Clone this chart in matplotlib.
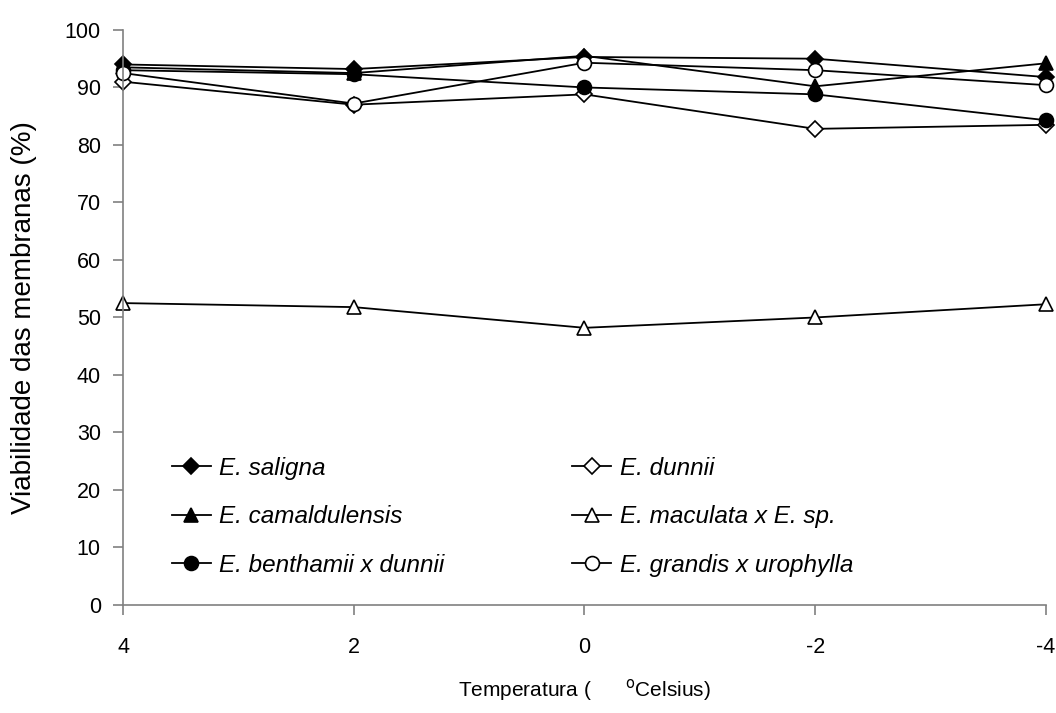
import matplotlib.pyplot as plt

plt.rcParams['font.family'] = ['Liberation Sans', 'DejaVu Sans']
plt.rcParams['axes.unicode_minus'] = False

# temperatures (degrees Celsius)
temps = [4, 2, 0, -2, -4]

saligna = [94.0, 93.2, 95.3, 95.0, 91.8]
dunnii = [91.0, 87.0, 88.8, 82.8, 83.5]
camaldulensis = [93.5, 92.5, 95.5, 90.2, 94.2]
maculata = [52.5, 51.8, 48.2, 50.0, 52.3]
benthamii = [93.0, 92.3, 90.0, 88.8, 84.3]
grandis = [92.5, 87.2, 94.3, 93.0, 90.4]

labels = ['E. saligna', 'E. dunnii', 'E. camaldulensis',
          'E. maculata x E. sp.', 'E. benthamii x dunnii',
          'E. grandis x urophylla']

fig = plt.figure(figsize=(10.56, 7.13), dpi=100)
ax = fig.add_axes([0.1165, 0.1515, 0.874, 0.8065])

# (values, marker, face, size)
series = [
    (saligna, 'D', 'black', 8),
    (dunnii, 'D', 'white', 8),
    (camaldulensis, '^', 'black', 10),
    (maculata, '^', 'white', 10),
    (benthamii, 'o', 'black', 10),
    (grandis, 'o', 'white', 10),
]

lines = []
for (vals, mk, fc, ms), lab in zip(series, labels):
    ln, = ax.plot(temps, vals, color='black', lw=1.3, marker=mk, markersize=ms,
                  markerfacecolor=fc, markeredgecolor='black',
                  markeredgewidth=1.2, label=lab, clip_on=False)
    lines.append(ln)

ax.set_xlim(4, -4)
ax.set_ylim(0, 100)
ax.set_xticks(temps)
ax.set_yticks(range(0, 101, 10))

for s in ['top', 'right']:
    ax.spines[s].set_visible(False)
for s in ['left', 'bottom']:
    ax.spines[s].set_color('#808080')
    ax.spines[s].set_linewidth(1.2)

ax.tick_params(axis='both', direction='out', length=7, width=1.2,
               color='#808080', labelsize=15.5)
ax.tick_params(axis='x', pad=16)
ax.tick_params(axis='y', pad=9)

ax.set_ylabel('Viabilidade das membranas (%)', fontsize=20, labelpad=20)
ax.set_xlabel(r'Temperatura (      $^{\mathrm{o}}$Celsius)', fontsize=15,
              labelpad=14)

# row-major legend order (matplotlib fills columns first)
order = [0, 2, 4, 1, 3, 5]
leg = ax.legend([lines[i] for i in order], [labels[i] for i in order],
                loc='upper left', bbox_to_anchor=(0.053, 0.258), ncol=2,
                frameon=False, handlelength=1.6, borderpad=0,
                borderaxespad=0, handletextpad=0.35, columnspacing=5.25,
                labelspacing=1.05, prop={'style': 'italic', 'size': 17.5})

fig.savefig('out.png', dpi=100)
